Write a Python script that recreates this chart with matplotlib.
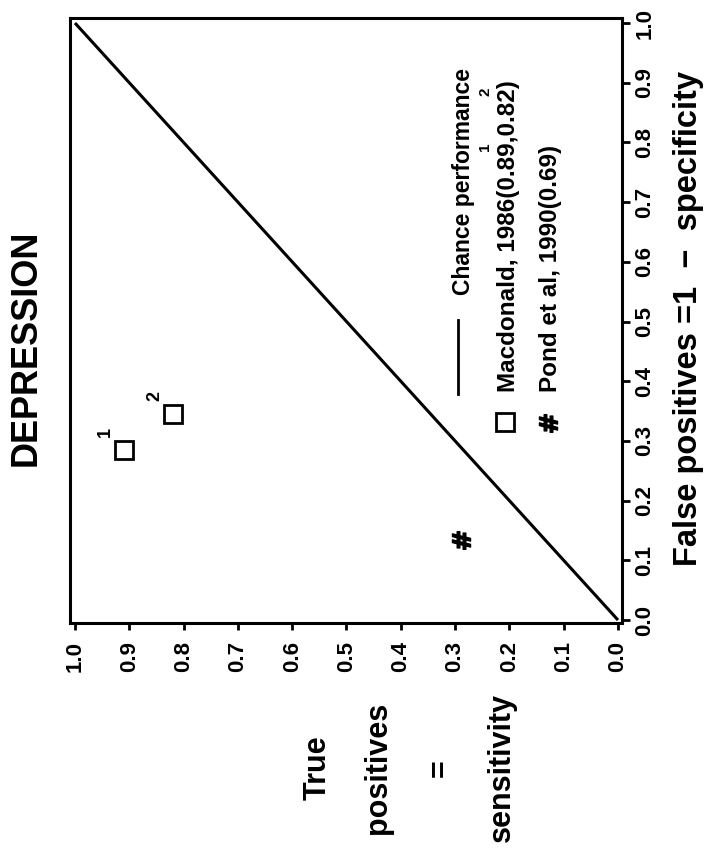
import matplotlib.pyplot as plt
from matplotlib import font_manager
from matplotlib.markers import MarkerStyle
from matplotlib.transforms import Affine2D

plt.rcParams['font.family'] = ['Liberation Sans', 'DejaVu Sans']
plt.rcParams['font.weight'] = 'bold'

installed = {f.name for f in font_manager.fontManager.ttflist}
if 'Liberation Sans Narrow' in installed:
    legend_font, legend_size = 'Liberation Sans Narrow', 20.5
else:
    legend_font, legend_size = 'Liberation Sans', 17.5

# the page is printed sideways: horizontal = sensitivity, vertical = 1 - specificity
ticks = [0.0, 0.1, 0.2, 0.3, 0.4, 0.5, 0.6, 0.7, 0.8, 0.9, 1.0]
tick_labels = ['0.0', '0.1', '0.2', '0.3', '0.4', '0.5', '0.6', '0.7', '0.8', '0.9', '1.0']

chance_tp = [0.0, 1.0]
chance_fp = [0.0, 1.0]

macdonald_tp = [0.91, 0.82]
macdonald_fp = [0.285, 0.345]
macdonald_ids = ['1', '2']

pond_tp = [0.29]
pond_fp = [0.134]

fig = plt.figure(figsize=(7.06, 8.48), dpi=100)
ax = fig.add_axes([70/706, 1-623/848, 552/706, 605/848])

hash_mark = MarkerStyle(r'$\#$', transform=Affine2D().rotate_deg(90))

ax.plot(chance_tp, chance_fp, color='black', lw=2.2, solid_capstyle='butt')
ax.plot(macdonald_tp, macdonald_fp, ls='none', marker='s', ms=13,
        mfc='none', mec='black', mew=2)
for t, f, s in zip(macdonald_tp, macdonald_fp, macdonald_ids):
    ax.annotate(s, (t, f), xytext=(-13, 13), textcoords='offset points',
                rotation=90, ha='center', va='center', fontsize=13)
ax.plot(pond_tp, pond_fp, ls='none', marker=hash_mark, ms=13, color='black')

ax.set_xlim(1.0092, -0.0074)
ax.set_ylim(-0.005, 1.0084)
ax.set_xticks(ticks)
ax.set_xticklabels(tick_labels, rotation=90)
ax.set_yticks(ticks)
ax.set_yticklabels(tick_labels, rotation=90, va='center')
ax.yaxis.tick_right()
ax.tick_params(axis='x', length=5, width=2, pad=8, labelsize=16)
ax.tick_params(axis='y', length=6, width=2, pad=3, labelsize=16)
for sp in ax.spines.values():
    sp.set_linewidth(2.2)

# legend drawn sideways
ax.plot([0.703, 0.703], [0.378, 0.501], transform=ax.transAxes, color='black', lw=2)
ax.text(0.712, 0.542, 'Chance performance', transform=ax.transAxes,
        rotation=90, ha='center', va='bottom', fontsize=legend_size - 1,
        family=legend_font)
ax.plot([0.788], [0.332], transform=ax.transAxes, marker='s', ms=13,
        mfc='none', mec='black', mew=2)
ax.text(0.794, 0.382, 'Macdonald, 1986(0.89,0.82)', transform=ax.transAxes,
        rotation=90, ha='center', va='bottom', fontsize=legend_size,
        family=legend_font)
ax.text(0.752, 0.787, '1', transform=ax.transAxes, rotation=90,
        ha='center', va='center', fontsize=11)
ax.text(0.752, 0.878, '2', transform=ax.transAxes, rotation=90,
        ha='center', va='center', fontsize=11)
ax.plot([0.866], [0.331], transform=ax.transAxes, marker=hash_mark, ms=13,
        color='black', ls='none')
ax.text(0.871, 0.382, 'Pond et al, 1990(0.69)', transform=ax.transAxes,
        rotation=90, ha='center', va='bottom', fontsize=legend_size,
        family=legend_font)

fig.text(26/706, 1-348/848, 'DEPRESSION', rotation=90, ha='center',
         va='center', fontsize=26)
fig.text(688/706, 1-319/848, 'False positives =1  \u2212  specificity', rotation=90,
         ha='center', va='center', fontsize=23.5)
for xx, word in zip([318, 378, 441, 502], ['True', 'positives', '=', 'sensitivity']):
    fig.text(xx/706, 1-768/848, word, rotation=90, ha='center', va='center',
             fontsize=22)

fig.savefig('out.png', dpi=100)
